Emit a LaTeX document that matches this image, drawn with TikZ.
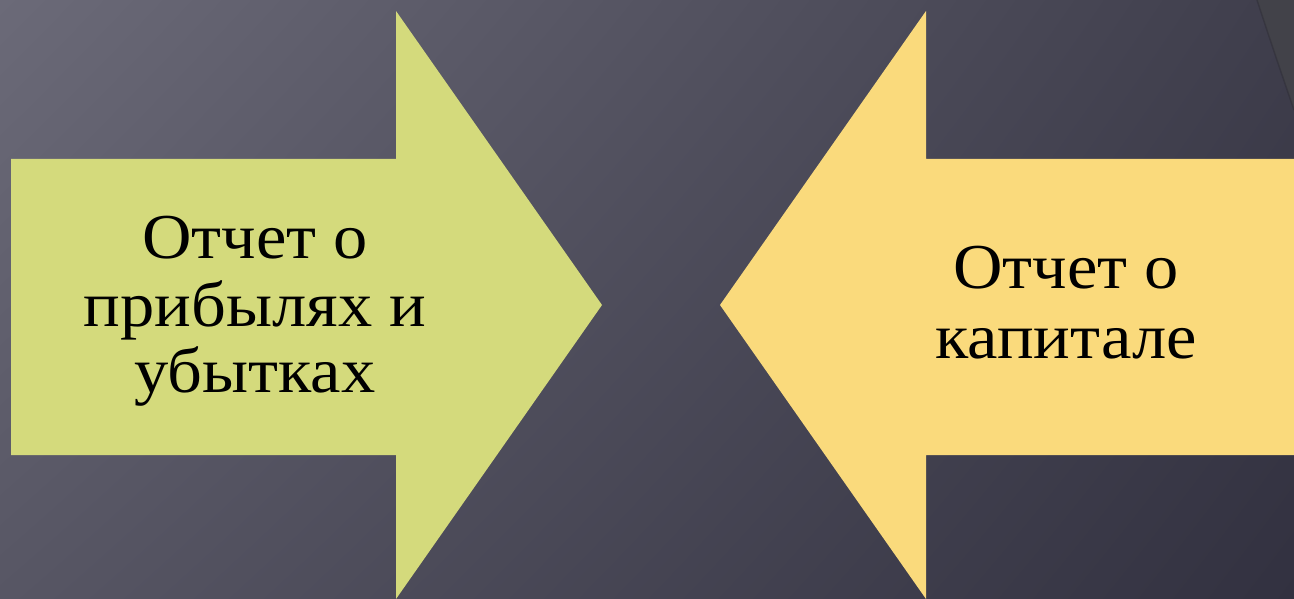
\documentclass[tikz,border=0pt]{standalone}
\usepackage{fontspec}
\usetikzlibrary{shadings}
\newfontfamily\slidefont[FakeStretch=1.07]{Liberation Serif}
\definecolor{bgUL}{HTML}{6B6A78}
\definecolor{bgUR}{HTML}{3F3E4C}
\definecolor{bgLL}{HTML}{575664}
\definecolor{bgLR}{HTML}{323140}
\definecolor{arrgreen}{HTML}{D4DA7C}
\definecolor{arryellow}{HTML}{FADA7C}
\definecolor{swoosh}{HTML}{424249}
\tikzset{
  arrowshape/.style={draw=none},
  label text/.style={font=\slidefont\fontsize{64}{67}\selectfont, align=center, text=black, inner sep=0pt}
}
\begin{document}
\begin{tikzpicture}[x=1pt,y=-1pt]
\useasboundingbox (0,0) rectangle (1294,599);
\shade[upper left=bgUL, upper right=bgUR, lower left=bgLL, lower right=bgLR] (0,0) rectangle (1294,599);
% top-right swoosh
\fill[swoosh] (1257,0) .. controls (1270,40) and (1282,75) .. (1294,110) -- (1294,0) -- cycle;
\draw[black!40!bgUR, line width=1.5pt, opacity=0.35] (1257,0) .. controls (1270,40) and (1282,75) .. (1294,110);
% left arrow
\fill[arrgreen, arrowshape] (11,159) -- (396,159) -- (396,11) -- (602,305) -- (396,599) -- (396,455) -- (11,455) -- cycle;
% right arrow
\fill[arryellow, arrowshape] (1294,159) -- (926,159) -- (926,11) -- (720,305) -- (926,599) -- (926,455) -- (1294,455) -- cycle;
\node[label text, anchor=base] (l1) at (255,258) {Отчет о};
\node[label text, anchor=base] (l2) at (255,326) {прибылях и};
\node[label text, anchor=base] (l3) at (255,392) {убытках};
\node[label text, anchor=base] (r1) at (1066,288) {Отчет о};
\node[label text, anchor=base] (r2) at (1066,358) {капитале};
\end{tikzpicture}
\end{document}
